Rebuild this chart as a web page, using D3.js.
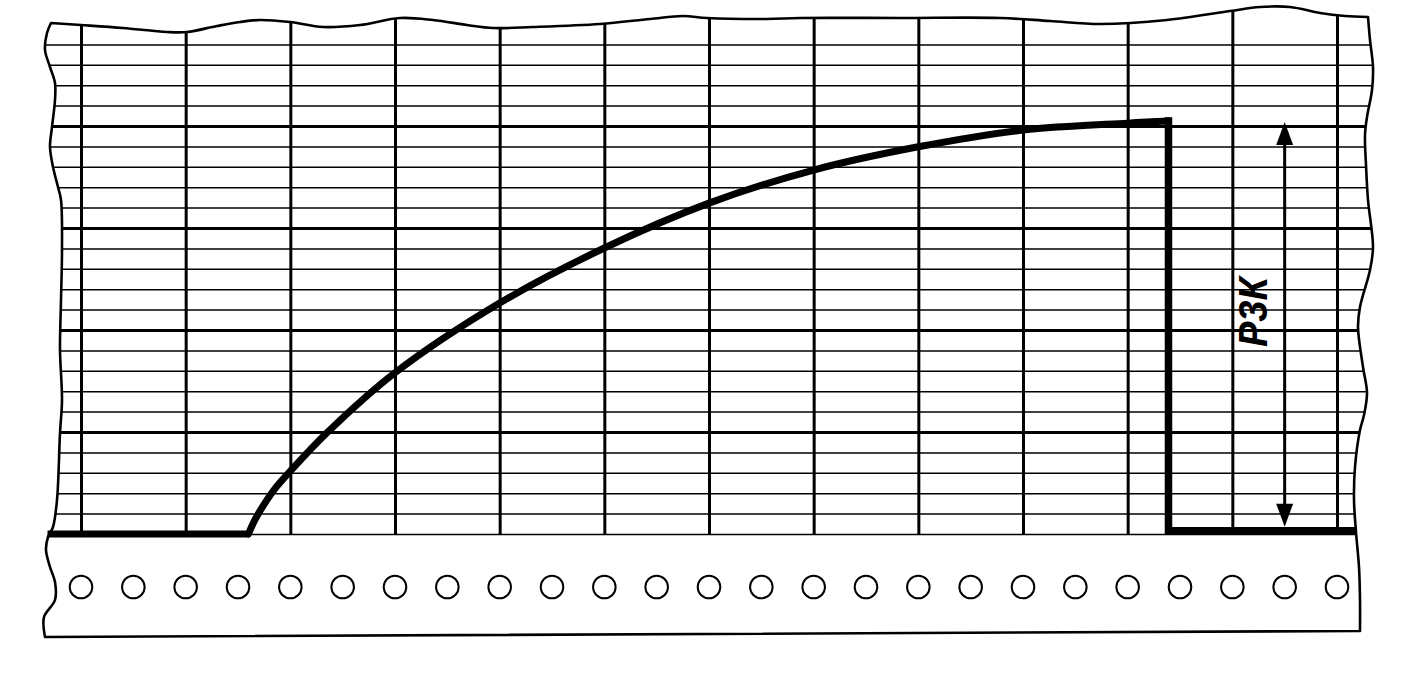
<!DOCTYPE html>
<html>
<head>
<meta charset="utf-8">
<script src="https://cdn.jsdelivr.net/npm/d3@7"></script>
<style>
  html, body { margin: 0; padding: 0; background: #fff; }
  svg { display: block; }
</style>
</head>
<body>
<svg id="chart" width="1425" height="674"></svg>
<script>
// ---------------- data ----------------
// time axis (chart divisions) and recorded pressure (% of scale)
const timeTicks = [0, 1, 2, 3, 4, 5, 6, 7, 8, 9, 10, 11, 12];
const pressureMinorTicks = [0, 5, 10, 15, 20, 25, 30, 35, 40, 45, 50, 55, 60, 65, 70, 75, 80, 85, 90, 95, 100, 105, 110, 115, 120];
const pressureMajorTicks = [25, 50, 75, 100];

// flat start of the trace (before test start)
const baseTime = [-0.32, 1.6];
const baseValue = [0, 0];

// rising pressure curve
const riseTime  = [1.6, 1.66, 1.74, 1.85, 2.0, 2.35, 3.0, 4.0, 5.0, 6.0, 7.0, 8.0, 9.0, 10.0, 10.39];
const riseValue = [0, 3.4, 6.9, 11.0, 15.4, 24.8, 39.5, 56.6, 70.1, 81.1, 89.2, 94.9, 99.0, 100.7, 101.2];

// release: vertical drop and tail
const dropTime  = [10.39, 10.39, 12.14];
const dropValue = [101.2, 0.8, 0.8];

// dimension arrow for the "Р3К" pressure
const arrowTime = 11.5;
const arrowFrom = 1.8;
const arrowTo = 101.0;
const labelText = "Р3К";

// sprocket holes (every half division)
const holeTimes = [0, 0.5, 1, 1.5, 2, 2.5, 3, 3.5, 4, 4.5, 5, 5.5, 6, 6.5, 7, 7.5, 8, 8.5, 9, 9.5, 10, 10.5, 11, 11.5, 12];

// ---------------- layout ----------------
const svg = d3.select("#chart");
const x = d3.scaleLinear().domain([0, 12]).range([81, 1337]);
const y = d3.scaleLinear().domain([0, 100]).range([534, 126]);

// paper outline (decorative torn edge, pixel space)
const topEdge = [[51,23],[81,25],[123,28],[167,32],[187,32],[217,26],[240,22],[260,20],[290,22],[323,27],[360,25],[400,18],[433,20],[467,25],[493,28],[533,27],[600,24],[650,19],[683,16],[707,18],[767,19],[800,18],[900,18],[1000,18],[1050,21],[1100,24],[1167,20],[1230,11],[1260,7],[1290,7],[1320,13],[1345,16],[1368,17]];
const rightEdge = [[1368,17],[1370,40],[1373,67],[1372,90],[1367,117],[1365,135],[1366,165],[1368,200],[1373,247],[1370,270],[1360,307],[1358,327],[1363,367],[1367,393],[1364,415],[1360,430],[1355,467],[1354,500],[1356,532],[1359,567],[1360,600],[1360,631]];
const bottomEdge = [[1360,631],[45,637]];
const leftEdge = [[45,637],[44,617],[55,600],[55,582],[50,567],[46,550],[48,537],[53,527],[57,500],[60,433],[62,400],[60,350],[61,300],[62,250],[61,200],[58,187],[53,167],[50,147],[52,127],[55,100],[55,83],[50,67],[45,50],[47,33],[51,23]];

const cr = d3.line().curve(d3.curveCatmullRom.alpha(0.5));
const lin = d3.line();
const outlineD = cr(topEdge) + cr(rightEdge).replace(/^M/, "L") + lin(bottomEdge).replace(/^M/, "L") + cr(leftEdge).replace(/^M/, "L") + "Z";

const defs = svg.append("defs");
defs.append("clipPath").attr("id", "paper").append("path").attr("d", outlineD);

// paper background
svg.append("path").attr("d", outlineD).attr("fill", "#fff");

const grid = svg.append("g").attr("clip-path", "url(#paper)");

// horizontal grid via axis
const hAxisMinor = d3.axisLeft(y).tickValues(pressureMinorTicks).tickSize(-1400).tickFormat("");
grid.append("g").attr("class", "hminor").attr("transform", "translate(20,0)").call(hAxisMinor)
  .call(g => g.select(".domain").remove())
  .call(g => g.selectAll("line").attr("stroke", "#000").attr("stroke-width", 1.5));
const hAxisMajor = d3.axisLeft(y).tickValues(pressureMajorTicks).tickSize(-1400).tickFormat("");
grid.append("g").attr("class", "hmajor").attr("transform", "translate(20,0)").call(hAxisMajor)
  .call(g => g.select(".domain").remove())
  .call(g => g.selectAll("line").attr("stroke", "#000").attr("stroke-width", 3));

// vertical grid via axis (from baseline up through the top edge)
const vAxis = d3.axisBottom(x).tickValues(timeTicks).tickSize(-(y(0) - 0)).tickFormat("");
grid.append("g").attr("class", "vgrid").attr("transform", `translate(0,${y(0)})`).call(vAxis)
  .call(g => g.select(".domain").remove())
  .call(g => g.selectAll("line").attr("stroke", "#000").attr("stroke-width", 3));

// sprocket holes
const holeY = y(0) + 53;
svg.append("g").selectAll("circle").data(holeTimes).join("circle")
  .attr("cx", d => x(d)).attr("cy", holeY).attr("r", 11.3)
  .attr("fill", "#fff").attr("stroke", "#000").attr("stroke-width", 2);

// paper outline stroke
svg.append("path").attr("d", outlineD).attr("fill", "none")
  .attr("stroke", "#000").attr("stroke-width", 2.6).attr("stroke-linejoin", "round");

// trace
const trace = svg.append("g").attr("fill", "none").attr("stroke", "#000").attr("stroke-width", 7);
const lineLin = d3.line().x(d => x(d[0])).y(d => y(d[1]));
const lineCurve = d3.line().x(d => x(d[0])).y(d => y(d[1])).curve(d3.curveCatmullRom.alpha(0.5));

trace.append("path").attr("d", lineLin(d3.zip(baseTime, baseValue))).attr("stroke-linecap", "butt");
trace.append("path").attr("d", lineCurve(d3.zip(riseTime, riseValue))).attr("stroke-linecap", "round");
trace.append("path").attr("d", lineLin(d3.zip(dropTime, dropValue)))
  .attr("stroke-linecap", "square").attr("stroke-linejoin", "miter").attr("stroke-width", 7.5);

// dimension arrow
const ax = x(arrowTime), ay1 = y(arrowTo), ay2 = y(arrowFrom);
const headL = 23, headW = 8.5;
const arr = svg.append("g");
arr.append("line").attr("x1", ax).attr("x2", ax).attr("y1", ay1 + headL - 2).attr("y2", ay2 - headL + 2)
  .attr("stroke", "#000").attr("stroke-width", 3);
arr.append("path").attr("d", `M${ax},${ay1} L${ax - headW},${ay1 + headL} L${ax + headW},${ay1 + headL} Z`).attr("fill", "#000");
arr.append("path").attr("d", `M${ax},${ay2} L${ax - headW},${ay2 - headL} L${ax + headW},${ay2 - headL} Z`).attr("fill", "#000");

// label
const lx = x(11.2), ly = y(54.4);
svg.append("text")
  .attr("transform", `translate(${lx},${ly}) rotate(-90)`)
  .attr("text-anchor", "middle").attr("dominant-baseline", "central")
  .attr("font-family", "Liberation Sans, Arial, sans-serif")
  .attr("font-style", "italic").attr("font-weight", "bold")
  .attr("font-size", 40)
  .attr("textLength", 70).attr("lengthAdjust", "spacingAndGlyphs")
  .attr("fill", "#000")
  .text(labelText);
</script>
</body>
</html>
